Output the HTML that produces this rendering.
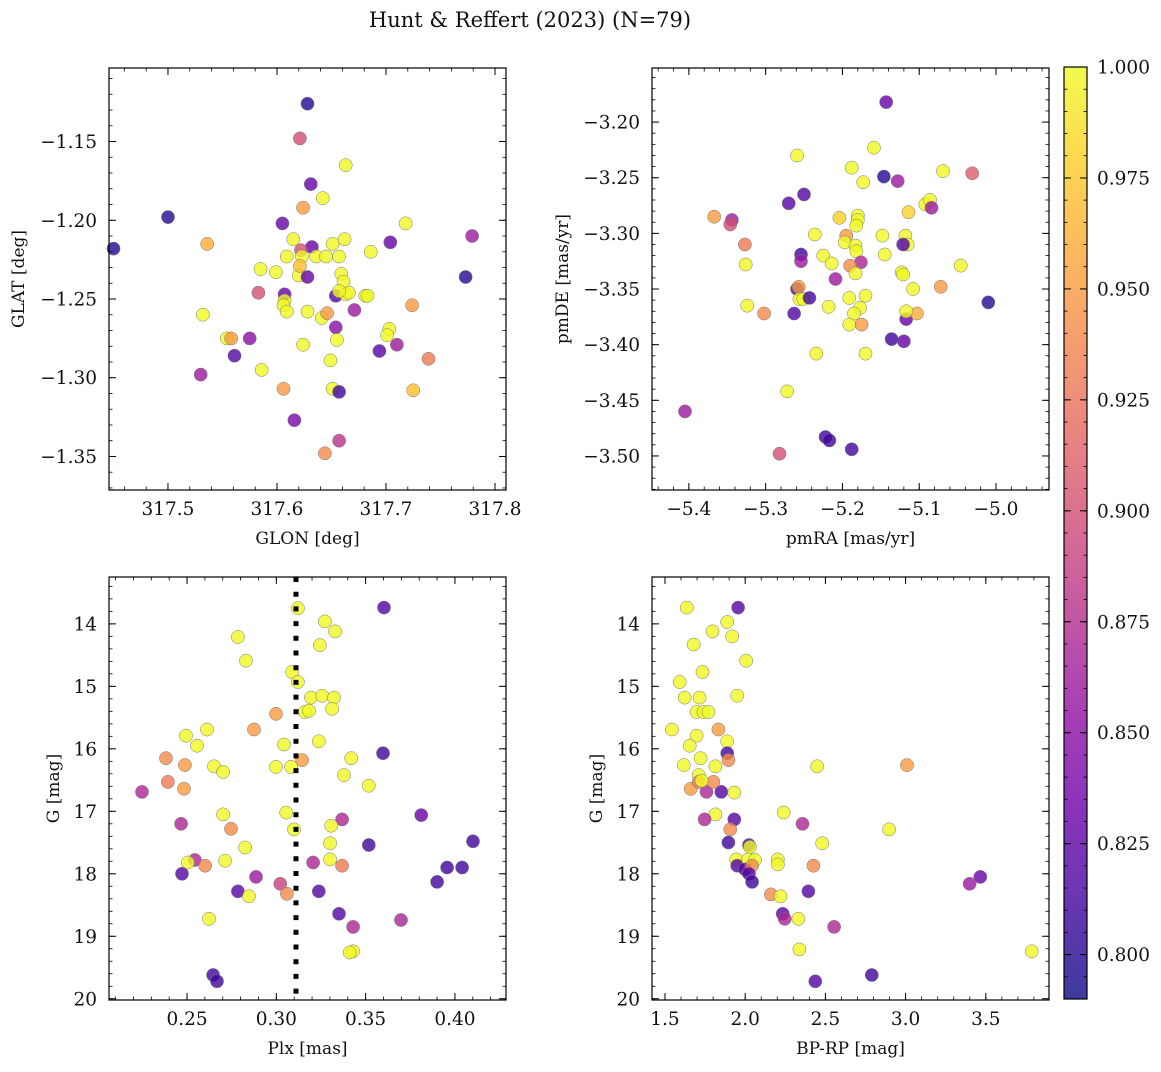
<!DOCTYPE html>
<html><head><meta charset="utf-8"><style>
html,body{margin:0;padding:0;background:#fff;}
svg text{font-family:"DejaVu Serif","Liberation Serif",serif;fill:#111;}
</style></head><body>
<svg id="chart" width="1161" height="1067" viewBox="0 0 1161 1067" xmlns="http://www.w3.org/2000/svg">
<text x="530" y="27" font-size="21" text-anchor="middle">Hunt &amp; Reffert (2023) (N=79)</text>
</svg>
<script>
// Panel 1: GLON vs GLAT
const glon1=[317.628,317.621,317.663,317.631,317.642,317.500,317.450,317.605,317.624,317.718,317.779,317.536,317.615,317.632,317.662,317.651,317.704,317.622,317.623,317.609,317.636,317.645,317.657,317.659,317.661,317.585,317.599,317.620,317.628,317.621,317.686,317.773,317.583,317.607,317.607,317.606,317.654,317.663,317.666,317.657,317.681,317.683,317.724,317.609,317.628,317.641,317.646,317.671,317.532,317.554,317.558,317.575,317.654,317.655,317.703,317.701,317.710,317.694,317.561,317.624,317.649,317.739,317.586,317.530,317.606,317.651,317.657,317.725,317.616,317.657,317.644];
const glat1=[-1.126,-1.148,-1.165,-1.177,-1.186,-1.198,-1.218,-1.202,-1.192,-1.202,-1.210,-1.215,-1.212,-1.217,-1.212,-1.215,-1.214,-1.219,-1.223,-1.223,-1.223,-1.223,-1.223,-1.234,-1.239,-1.231,-1.233,-1.235,-1.236,-1.229,-1.220,-1.236,-1.246,-1.247,-1.251,-1.254,-1.248,-1.247,-1.246,-1.245,-1.248,-1.248,-1.254,-1.258,-1.258,-1.262,-1.259,-1.257,-1.260,-1.275,-1.275,-1.275,-1.268,-1.276,-1.269,-1.273,-1.279,-1.283,-1.286,-1.279,-1.289,-1.288,-1.295,-1.298,-1.307,-1.307,-1.309,-1.308,-1.327,-1.340,-1.348];
const prob1=[.80,.90,1,.83,1,.80,.80,.83,.95,1,.86,.96,1,.83,1,1,.83,.90,1,1,1,1,1,1,1,1,1,1,.83,.97,1,.80,.90,.83,1,1,.82,1,1,1,1,1,.95,1,1,1,.95,.86,1,1,.95,.85,.85,1,1,1,.86,.82,.82,1,1,.93,1,.86,.95,1,.81,.97,.84,.88,.94];
// Panel 2: pmRA vs pmDE
const pmra2=[-5.143,-5.159,-5.259,-5.146,-5.188,-5.069,-5.128,-5.031,-5.173,-5.270,-5.250,-5.367,-5.344,-5.346,-5.204,-5.180,-5.180,-5.182,-5.148,-5.118,-5.092,-5.086,-5.084,-5.114,-5.236,-5.195,-5.197,-5.254,-5.254,-5.183,-5.182,-5.176,-5.115,-5.327,-5.326,-5.225,-5.214,-5.190,-5.209,-5.259,-5.257,-5.256,-5.251,-5.243,-5.191,-5.183,-5.145,-5.121,-5.123,-5.121,-5.072,-5.046,-5.108,-5.170,-5.218,-5.324,-5.263,-5.302,-5.177,-5.185,-5.117,-5.103,-5.191,-5.175,-5.136,-5.120,-5.234,-5.170,-5.272,-5.405,-5.222,-5.217,-5.188,-5.282,-5.010,-5.117];
const pmde2=[-3.182,-3.223,-3.230,-3.249,-3.241,-3.244,-3.253,-3.246,-3.254,-3.273,-3.265,-3.285,-3.288,-3.292,-3.286,-3.284,-3.288,-3.293,-3.302,-3.302,-3.274,-3.270,-3.277,-3.281,-3.301,-3.302,-3.308,-3.319,-3.325,-3.311,-3.316,-3.326,-3.310,-3.310,-3.328,-3.320,-3.327,-3.329,-3.341,-3.350,-3.348,-3.359,-3.359,-3.358,-3.358,-3.336,-3.319,-3.310,-3.335,-3.337,-3.348,-3.329,-3.350,-3.356,-3.366,-3.365,-3.372,-3.372,-3.367,-3.372,-3.377,-3.372,-3.382,-3.382,-3.395,-3.397,-3.408,-3.408,-3.442,-3.460,-3.483,-3.486,-3.494,-3.498,-3.362,-3.370];
const prob2=[.83,1,1,.80,1,1,.86,.91,1,.82,.82,.95,.86,.90,.98,1,1,1,1,1,1,1,.86,.98,1,.95,1,.81,.86,1,1,.87,1,.93,1,1,1,.94,.86,.82,.95,1,1,.81,1,1,1,.82,1,1,.95,1,1,1,1,1,.82,.94,1,1,.83,.96,1,.95,.81,.83,1,1,1,.86,.81,.81,.81,.90,.80,1];
// Panel 3: Plx vs G
const plx3=[0.3121,0.3603,0.3272,0.3329,0.2785,0.3244,0.2830,0.3088,0.3121,0.3194,0.3256,0.3323,0.3160,0.3183,0.3312,0.2998,0.2494,0.2612,0.2556,0.2875,0.3238,0.3043,0.3419,0.3597,0.2382,0.2488,0.2651,0.2702,0.2998,0.3082,0.3144,0.3379,0.2393,0.2248,0.2483,0.3518,0.2702,0.3055,0.3368,0.2467,0.2746,0.3099,0.3307,0.2825,0.3301,0.3206,0.2544,0.2505,0.2601,0.2713,0.3368,0.3301,0.3811,0.4101,0.3956,0.4040,0.3900,0.3698,0.3518,0.2472,0.2886,0.3022,0.3059,0.2785,0.3238,0.2847,0.3351,0.2623,0.3430,0.3430,0.3411,0.2646,0.2668];
const g3=[13.75,13.74,13.96,14.12,14.21,14.34,14.59,14.77,14.93,15.18,15.15,15.18,15.41,15.39,15.36,15.44,15.79,15.69,15.95,15.69,15.88,15.93,16.15,16.07,16.15,16.26,16.28,16.37,16.29,16.29,16.18,16.42,16.53,16.69,16.64,16.59,17.05,17.02,17.13,17.20,17.28,17.29,17.23,17.58,17.51,17.82,17.78,17.82,17.87,17.79,17.87,17.77,17.06,17.48,17.90,17.90,18.13,18.74,17.54,18.00,18.05,18.16,18.32,18.28,18.28,18.36,18.64,18.72,18.85,19.24,19.26,19.62,19.72];
const prob3=[1,.82,1,1,1,1,1,1,1,1,1,1,1,1,1,.95,1,1,1,.95,1,1,1,.81,.94,.95,1,1,1,1,.95,1,.93,.87,.95,1,1,1,.87,.87,.94,1,1,1,1,.87,.87,1,.94,1,.93,1,.83,.81,.81,.81,.81,.87,.81,.82,.86,.89,.94,.82,.82,1,.82,1,.87,1,1,.81,.81];
// Panel 4: BP-RP vs G
const bprp4=[1.636,1.956,1.679,1.796,1.888,1.919,2.006,1.734,1.592,1.623,1.716,1.950,1.697,1.740,1.771,1.833,1.543,1.697,1.888,1.654,1.888,1.722,1.617,1.814,1.895,1.710,2.449,3.009,1.660,1.710,1.759,1.851,1.932,1.802,1.728,1.814,2.240,2.357,1.932,1.907,1.747,2.897,1.895,2.024,2.480,2.030,1.944,1.950,2.018,2.061,1.999,2.043,2.203,2.203,2.425,2.024,2.043,2.160,2.221,2.394,2.234,2.246,2.332,2.554,2.338,3.787,3.466,3.399,2.437,2.789];
const g4=[13.74,13.74,14.33,14.12,13.97,14.20,14.59,14.77,14.93,15.18,15.18,15.15,15.41,15.41,15.41,15.69,15.69,15.79,15.88,15.95,16.07,16.15,16.26,16.28,16.18,16.42,16.28,16.26,16.64,16.53,16.69,16.69,16.70,16.53,16.51,17.05,17.02,17.20,17.13,17.29,17.13,17.29,17.50,17.54,17.51,17.57,17.77,17.87,17.77,17.78,17.93,17.87,17.77,17.85,17.87,18.00,18.13,18.33,18.36,18.28,18.64,18.72,18.72,18.85,19.21,19.24,18.05,18.16,19.72,19.62];
const prob4=[1,.82,1,1,1,1,1,1,1,1,1,1,1,1,1,.95,1,1,1,1,.81,1,1,1,.94,1,1,.95,.95,.93,.87,.82,1,.94,1,1,1,.87,.82,.94,.87,1,.81,.81,1,1,1,.82,1,1,.82,.94,1,1,.94,.82,.81,.94,1,.82,.82,.87,1,.87,1,1,.83,.86,.82,.81];
const plxCut=[0.311];
const cbTicks=[0.800,0.825,0.850,0.875,0.900,0.925,0.950,0.975,1.000];
const cbMin=0.79, cbMax=1.0;

const NS="http://www.w3.org/2000/svg";
const svg=document.getElementById('chart');
function el(tag,attrs,parent){const e=document.createElementNS(NS,tag);for(const k in attrs)e.setAttribute(k,attrs[k]);(parent||svg).appendChild(e);return e;}
const stops=[[13,8,135],[65,4,157],[106,0,168],[143,13,164],[177,42,144],[204,71,120],[225,100,98],[242,132,75],[252,166,54],[252,206,37],[240,249,33]];
function plasma(t){t=Math.max(0,Math.min(1,t));const f=t*10,i=Math.min(9,Math.floor(f)),r=f-i;const a=stops[i],b=stops[i+1];return `rgb(${Math.round(a[0]+(b[0]-a[0])*r)},${Math.round(a[1]+(b[1]-a[1])*r)},${Math.round(a[2]+(b[2]-a[2])*r)})`;}
function fmt(v,d){return (v<-1e-9?'\u2212':'')+Math.abs(v).toFixed(d);}
function ticks(dom,step){const lo=Math.min(dom[0],dom[1]),hi=Math.max(dom[0],dom[1]);const out=[];for(let k=Math.ceil(lo/step-1e-6);k*step<=hi+1e-9;k++)out.push(k*step);return out;}

function panel(cfg){
  const {x0,x1,y0,y1,xd,yd,name}=cfg;
  const g=el('g',{});
  
  
  const sx=v=>x0+(v-xd[0])/(xd[1]-xd[0])*(x1-x0);
  const sy=v=>y1-(v-yd[0])/(yd[1]-yd[0])*(y1-y0);
  for(let i=0;i<cfg.xs.length;i++){
    const c=el('circle',{cx:sx(cfg.xs[i]).toFixed(1),cy:sy(cfg.ys[i]).toFixed(1),r:6.6,fill:plasma((cfg.ps[i]-cbMin)/(cbMax-cbMin)),'fill-opacity':0.8,stroke:'#777','stroke-width':0.5},g);
    
    
  }
  if(cfg.vline){for(const v of cfg.vline){const l=el('line',{x1:sx(v),x2:sx(v),y1:y0,y2:y1,stroke:'#000','stroke-width':5,'stroke-dasharray':'5,9.7'},g);
    
    }}
  const fr=el('rect',{x:x0,y:y0,width:x1-x0,height:y1-y0,fill:'none',stroke:'#000','stroke-width':1.2},g);
  
  
  for(const v of ticks(xd,cfg.xmin)){const p=sx(v);el('line',{x1:p,x2:p,y1:y1,y2:y1-3.5,stroke:'#000','stroke-width':0.8},g);el('line',{x1:p,x2:p,y1:y0,y2:y0+3.5,stroke:'#000','stroke-width':0.8},g);}
  for(const v of ticks(yd,cfg.ymin)){const p=sy(v);el('line',{x1:x0,x2:x0+3.5,y1:p,y2:p,stroke:'#000','stroke-width':0.8},g);el('line',{x1:x1,x2:x1-3.5,y1:p,y2:p,stroke:'#000','stroke-width':0.8},g);}
  for(const v of ticks(xd,cfg.xmaj)){const p=sx(v);el('line',{x1:p,x2:p,y1:y1,y2:y1-7,stroke:'#000','stroke-width':1},g);el('line',{x1:p,x2:p,y1:y0,y2:y0+7,stroke:'#000','stroke-width':1},g);
    const t=el('text',{x:p,y:y1+25,'font-size':18.5,'text-anchor':'middle'},g);t.textContent=fmt(v,cfg.xdec);
    
    }
  for(const v of ticks(yd,cfg.ymaj)){const p=sy(v);el('line',{x1:x0,x2:x0+7,y1:p,y2:p,stroke:'#000','stroke-width':1},g);el('line',{x1:x1,x2:x1-7,y1:p,y2:p,stroke:'#000','stroke-width':1},g);
    const t=el('text',{x:x0-12,y:p+6.5,'font-size':18.5,'text-anchor':'end'},g);t.textContent=fmt(v,cfg.ydec);
    
    }
  const xl=el('text',{x:(x0+x1)/2,y:y1+54,'font-size':17,'text-anchor':'middle'},g);xl.textContent=cfg.xlabel;
  
  
  const yl=el('text',{x:0,y:0,'font-size':17,'text-anchor':'middle',transform:`translate(${cfg.ylx},${(y0+y1)/2}) rotate(-90)`},g);yl.textContent=cfg.ylabel;
  
  
}
panel({name:'panel-sky-position',x0:109,x1:506,y0:68,y1:490,xd:[317.4459,317.8101],yd:[-1.3713,-1.1033],xs:glon1,ys:glat1,ps:prob1,xmaj:0.1,xmin:0.02,ymaj:0.05,ymin:0.01,xdec:1,ydec:2,xlabel:'GLON [deg]',ylabel:'GLAT [deg]',ylx:24});
panel({name:'panel-proper-motion',x0:652,x1:1049,y0:68,y1:490,xd:[-5.448,-4.931],yd:[-3.5306,-3.1514],xs:pmra2,ys:pmde2,ps:prob2,xmaj:0.1,xmin:0.02,ymaj:0.05,ymin:0.01,xdec:1,ydec:2,xlabel:'pmRA [mas/yr]',ylabel:'pmDE [mas/yr]',ylx:568});
panel({name:'panel-parallax-magnitude',x0:109,x1:506,y0:577,y1:1000,xd:[0.2063,0.4286],yd:[20.02,13.25],xs:plx3,ys:g3,ps:prob3,xmaj:0.05,xmin:0.01,ymaj:1,ymin:0.2,xdec:2,ydec:0,xlabel:'Plx [mas]',ylabel:'G [mag]',ylx:59,vline:plxCut});
panel({name:'panel-color-magnitude',x0:652,x1:1049,y0:577,y1:1000,xd:[1.419,3.894],yd:[20.02,13.25],xs:bprp4,ys:g4,ps:prob4,xmaj:0.5,xmin:0.1,ymaj:1,ymin:0.2,xdec:1,ydec:0,xlabel:'BP-RP [mag]',ylabel:'G [mag]',ylx:602});

(function(){
  const cx0=1064,cx1=1087,cy0=67,cy1=999;
  const g=el('g',{});
  
  
  const defs=el('defs',{},g);
  const lg=el('linearGradient',{id:'cbgrad',x1:0,y1:1,x2:0,y2:0},defs);
  for(let i=0;i<=20;i++){el('stop',{offset:i/20,'stop-color':plasma(i/20),'stop-opacity':0.8},lg);}
  el('rect',{x:cx0,y:cy0,width:cx1-cx0,height:cy1-cy0,fill:'url(#cbgrad)',stroke:'#000','stroke-width':1.2},g);
  const sy=v=>cy1-(v-cbMin)/(cbMax-cbMin)*(cy1-cy0);
  for(const v of ticks([cbMin,cbMax],0.005)){const p=sy(v);el('line',{x1:cx1,x2:cx1-3.5,y1:p,y2:p,stroke:'#000','stroke-width':0.8},g);el('line',{x1:cx0,x2:cx0+3.5,y1:p,y2:p,stroke:'#000','stroke-width':0.8},g);}
  for(const v of cbTicks){const p=sy(v);el('line',{x1:cx1,x2:cx1-7,y1:p,y2:p,stroke:'#000','stroke-width':1},g);el('line',{x1:cx0,x2:cx0+7,y1:p,y2:p,stroke:'#000','stroke-width':1},g);
    const t=el('text',{x:cx1+10,y:p+6.5,'font-size':18.5},g);t.textContent=v.toFixed(3);
    
    }
})();
</script>
</body></html>
